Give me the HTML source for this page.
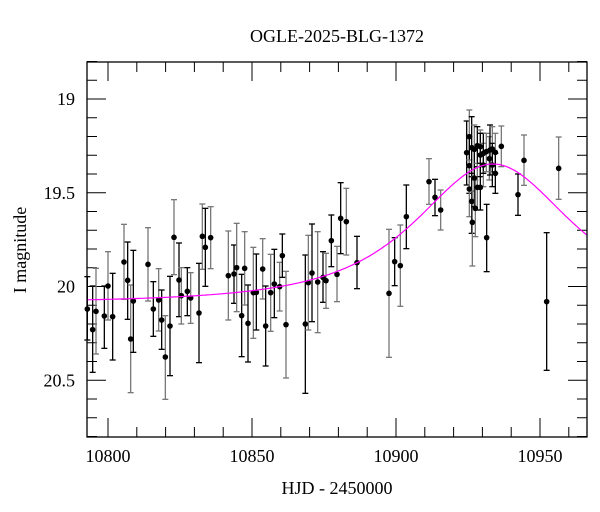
<!DOCTYPE html>
<html><head><meta charset="utf-8"><style>
body{margin:0;background:#fff;}
svg{display:block;font-family:"Liberation Serif",serif;}
</style></head><body>
<svg id="s" width="600" height="512" xmlns="http://www.w3.org/2000/svg">
<text x="337" y="42" font-size="18" text-anchor="middle">OGLE-2025-BLG-1372</text>
<text x="337" y="494" font-size="18" text-anchor="middle">HJD - 2450000</text>
<text transform="translate(26,250) rotate(-90)" font-size="18" text-anchor="middle">I magnitude</text>
<g id="g"></g>
</svg>
<script>
var g=document.getElementById('g'),h='';
var L=87,R=587,T=62,B=437;
function X(t){return 108+(t-10800)*2.88;}
function Y(m){return 99+(m-19)*187.5;}
for(var t=10800;t<=10960;t+=10){var x=X(t);if(x<L||x>R)continue;var len=(t%50==0)?19:10;
h+='<line x1="'+x+'" y1="'+B+'" x2="'+x+'" y2="'+(B-len)+'" stroke="#000"/>';
h+='<line x1="'+x+'" y1="'+T+'" x2="'+x+'" y2="'+(T+len)+'" stroke="#000"/>';
if(t%50==0)h+='<text x="'+x+'" y="'+(B+25)+'" font-size="18" text-anchor="middle">'+t+'</text>';}
for(var i=8;i<=28;i++){var m=18+i/10;var y=Y(m);if(y<T-0.5||y>B+0.5)continue;var len=(i%5==0)?19:10;
h+='<line x1="'+L+'" y1="'+y+'" x2="'+(L+len)+'" y2="'+y+'" stroke="#000"/>';
h+='<line x1="'+R+'" y1="'+y+'" x2="'+(R-len)+'" y2="'+y+'" stroke="#000"/>';
if(i%5==0)h+='<text x="'+(L-12)+'" y="'+(y+6)+'" font-size="18" text-anchor="end">'+(i%10==0?m.toFixed(0):m.toFixed(1))+'</text>';}
var pts=[];
var z1=[[38,449,318,577],[48,394,265,522],[73,408,318,505],[84,318,215,420],[98,410,280,540],[132,246,133,358],[143,301,186,418],[152,477,315,638],[160,363,211,517],[204,253,143,363],[220,387,305,469],[236,360,266,453],[245,420,330,508],[256,531,407,658],[270,438,289,587],[282,172,59,284],[297,300,189,410],[304,347,263,432],[322,334,263,407],[332,354,278,430],[357,399,250,548],[367,169,72,268],[376,202,85,319],[392,173,80,266],[22,387,290,480]];
z1.forEach(function(p){pts.push([80+p[0]/3,180+p[1]/3,180+p[2]/3,180+p[3]/3]);});
var z2=[[25,317,183,450],[42,312,225,400],[50,293,160,425],[65,437,313,560],[74,295,185,405],[84,460,345,576],[100,368,232,505],[109,367,252,480],[128,297,206,387],[137,468,348,588],[152,368,253,484],[163,342,238,443],[179,350,277,423],[187,257,192,322],[198,464,304,624],[256,462,255,670],[265,338,196,480],[276,309,162,455],[293,336,185,488],[309,322,245,397],[318,332,250,415],[334,212,135,290],[351,313,229,395],[362,145,38,251],[379,155,55,255],[411,278,199,356],[507,370,178,562],[524,275,203,347],[541,287,165,409],[559,140,45,236]];
z2.forEach(function(p){pts.push([220+p[0]/3,170+p[1]/3,170+p[2]/3,170+p[3]/3]);});
var z3=[[27,245,176,313],[45,292,238,347],[62,330,270,390],[140,158,63,255],[148,110,30,199],[148,197,110,280],[148,267,180,350],[155,304,220,400],[157,367,273,498],[155,143,50,230],[163,148,75,230],[163,234,150,320],[166,325,240,410],[172,137,80,200],[172,262,190,330],[181,262,190,330],[181,140,90,200],[181,165,100,230],[190,195,130,260],[190,160,100,220],[199,155,100,215],[200,413,313,515],[208,176,110,240],[210,150,75,225],[217,147,80,215],[217,195,130,260],[226,157,100,220],[226,220,160,280],[244,139,78,200],[294,284,222,346],[312,181,105,256],[380,605,398,811],[416,205,111,298]];
z3.forEach(function(p){pts.push([420+p[0]/3,100+p[1]/3,100+p[2]/3,100+p[3]/3]);});
pts.forEach(function(p,i){var c=(i%2)?'#777':'#000';
h+='<line x1="'+p[0]+'" y1="'+p[2]+'" x2="'+p[0]+'" y2="'+p[3]+'" stroke="'+c+'" stroke-width="1.3"/>';
h+='<line x1="'+(p[0]-3)+'" y1="'+p[2]+'" x2="'+(p[0]+3)+'" y2="'+p[2]+'" stroke="'+c+'" stroke-width="1.3"/>';
h+='<line x1="'+(p[0]-3)+'" y1="'+p[3]+'" x2="'+(p[0]+3)+'" y2="'+p[3]+'" stroke="'+c+'" stroke-width="1.3"/>';});
pts.forEach(function(p){h+='<circle cx="'+p[0]+'" cy="'+p[1]+'" r="2.8" fill="#000"/>';});
var d='';for(var x=L;x<=R;x+=2){var dd=(x-493)/120;var f=Math.pow(1+dd*dd,-1.5);var y=303-139*f;d+=(x==L?'M':'L')+x+','+y.toFixed(1);}
h+='<path d="'+d+'" fill="none" stroke="#f0f" stroke-width="1.2"/>';
h+='<rect x="'+L+'" y="'+T+'" width="'+(R-L)+'" height="'+(B-T)+'" fill="none" stroke="#000" stroke-width="1.3"/>';
g.innerHTML=h;
</script>
</body></html>
